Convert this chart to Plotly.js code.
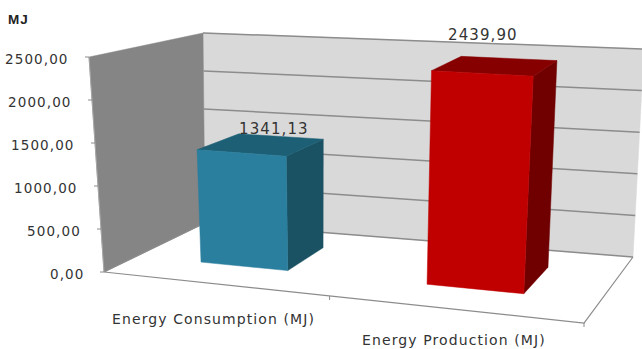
<!DOCTYPE html>
<html>
<head>
<meta charset="utf-8">
<script src="https://cdn.plot.ly/plotly-3.0.1.min.js"></script>
<style>
html,body{margin:0;padding:0;background:#fff}
#chart{width:642px;height:349px}
/* the labels are set wide */
text.annotation-text{letter-spacing:1.1px}
</style>
</head>
<body>
<div id="chart"></div>
<script>
// Chart values
const categories = ['Energy Consumption (MJ)', 'Energy Production (MJ)'];
const energyMJ = [1341.13, 2439.90];
const valueTicks = [0, 500, 1000, 1500, 2000, 2500];
const axisUnit = 'MJ';

// 3D box of the chart, as its eight projected corners: [left/right][front/back][floor/ceiling]
const AXIS_MAX = 2500;
const box = {
  lfb: [104, 272], rfb: [584, 323], lbb: [205, 223], rbb: [633, 257],
  lft: [89, 57],   rft: [599, 88],  lbt: [203, 33],  rbt: [644, 49]
};
// Interpolates inside the box: u across, w into depth, value upward
function project(u, w, value) {
  const v = value / AXIS_MAX;
  const mix = (a, b, t) => [a[0] + (b[0] - a[0]) * t, a[1] + (b[1] - a[1]) * t];
  const floor = mix(mix(box.lfb, box.rfb, u), mix(box.lbb, box.rbb, u), w);
  const top = mix(mix(box.lft, box.rft, u), mix(box.lbt, box.rbt, u), w);
  return mix(floor, top, v);
}

const traces = [];
function face(points, color) {
  traces.push({
    type: 'scatter', mode: 'lines', fill: 'toself', fillcolor: color,
    x: points.concat([points[0]]).map(p => p[0]),
    y: points.concat([points[0]]).map(p => p[1]),
    line: {color: color, width: 0.5}, hoverinfo: 'skip', showlegend: false
  });
}
function line(points, color, width) {
  traces.push({
    type: 'scatter', mode: 'lines',
    x: points.map(p => p[0]), y: points.map(p => p[1]),
    line: {color: color, width: width}, hoverinfo: 'skip', showlegend: false
  });
}

// Walls
face([project(0, 1, 0), project(1, 1, 0), project(1, 1, AXIS_MAX), project(0, 1, AXIS_MAX)], '#d9d9d9');
face([project(0, 0, 0), project(0, 1, 0), project(0, 1, AXIS_MAX), project(0, 0, AXIS_MAX)], '#858585');

// Gridlines on the back wall
valueTicks.forEach(t => line([project(0, 1, t), project(1, 1, t)], '#8c8c8c', 1.5));

// Floor outline, value axis and tick marks
line([project(0, 1, 0), project(0, 0, 0), project(1, 0, 0), project(1, 1, 0)], '#8c8c8c', 1.2);
line([project(0, 0, 0), project(0, 0, AXIS_MAX)], '#a6a6a6', 1);
valueTicks.forEach(t => {
  const p = project(0, 0, t);
  line([[p[0] - 4, p[1]], p], '#8c8c8c', 1);
});
[0.47, 1].forEach(u => {
  const p = project(u, 0, 0);
  line([p, [p[0], p[1] + 4]], '#8c8c8c', 1);
});

// Bars
const barSpans = [[0.1376, 0.325], [0.626, 0.835]];
const W_FRONT = 0.33, W_BACK = 0.75;
const barColors = [
  {front: '#2a7f9e', side: '#1a5263', top: '#1d6076'},
  {front: '#c00000', side: '#700000', top: '#860000'}
];
energyMJ.forEach((value, i) => {
  const [u0, u1] = barSpans[i];
  const c = barColors[i];
  face([project(u1, W_FRONT, 0), project(u1, W_BACK, 0), project(u1, W_BACK, value), project(u1, W_FRONT, value)], c.side);
  face([project(u0, W_FRONT, value), project(u1, W_FRONT, value), project(u1, W_BACK, value), project(u0, W_BACK, value)], c.top);
  face([project(u0, W_FRONT, 0), project(u1, W_FRONT, 0), project(u1, W_FRONT, value), project(u0, W_FRONT, value)], c.front);
});

// Text
const fmt = v => v.toFixed(2).replace('.', ',');
const TEXT = '#333333';
const font = {family: 'DejaVu Sans, Verdana, sans-serif', size: 13.5, color: TEXT};
const annotations = [];
function label(x, y, text, xanchor, f) {
  annotations.push({
    x, y, text, xref: 'x', yref: 'y', xanchor, yanchor: 'middle',
    showarrow: false, font: f || font, borderpad: 0, borderwidth: 0
  });
}
valueTicks.forEach(t => {
  const p = project(0, 0, t);
  label(p[0] - 20, p[1] + 2, fmt(t), 'right');
});
// Label placement relative to each bar's top and foot
const valueLabelShift = [[8, -16], [-18, -31]];
const categoryLabelShift = [[-2, 35], [-1, 31]];
energyMJ.forEach((value, i) => {
  const [u0, u1] = barSpans[i];
  const uMid = (u0 + u1) / 2;
  const p = project(uMid, (W_FRONT + W_BACK) / 2, value);
  label(p[0] + 5 + valueLabelShift[i][0], p[1] + valueLabelShift[i][1], fmt(value), 'center', Object.assign({}, font, {size: 15}));
  const q = project(uMid, 0, 0);
  label(q[0] + categoryLabelShift[i][0], q[1] + categoryLabelShift[i][1], categories[i], 'center', Object.assign({}, font, {size: 14}));
});
label(8, 19, '<b>' + axisUnit + '</b>', 'left', {family: 'Liberation Sans, Arial, sans-serif', size: 13.5, color: '#222222'});

const hidden = {visible: false, fixedrange: true};
Plotly.newPlot('chart', traces, {
  width: 642, height: 349,
  margin: {l: 0, r: 0, t: 0, b: 0},
  paper_bgcolor: '#ffffff', plot_bgcolor: '#ffffff',
  showlegend: false,
  xaxis: Object.assign({range: [0, 642]}, hidden),
  yaxis: Object.assign({range: [349, 0]}, hidden),
  annotations
}, {displayModeBar: false, staticPlot: true});
</script>
</body>
</html>
